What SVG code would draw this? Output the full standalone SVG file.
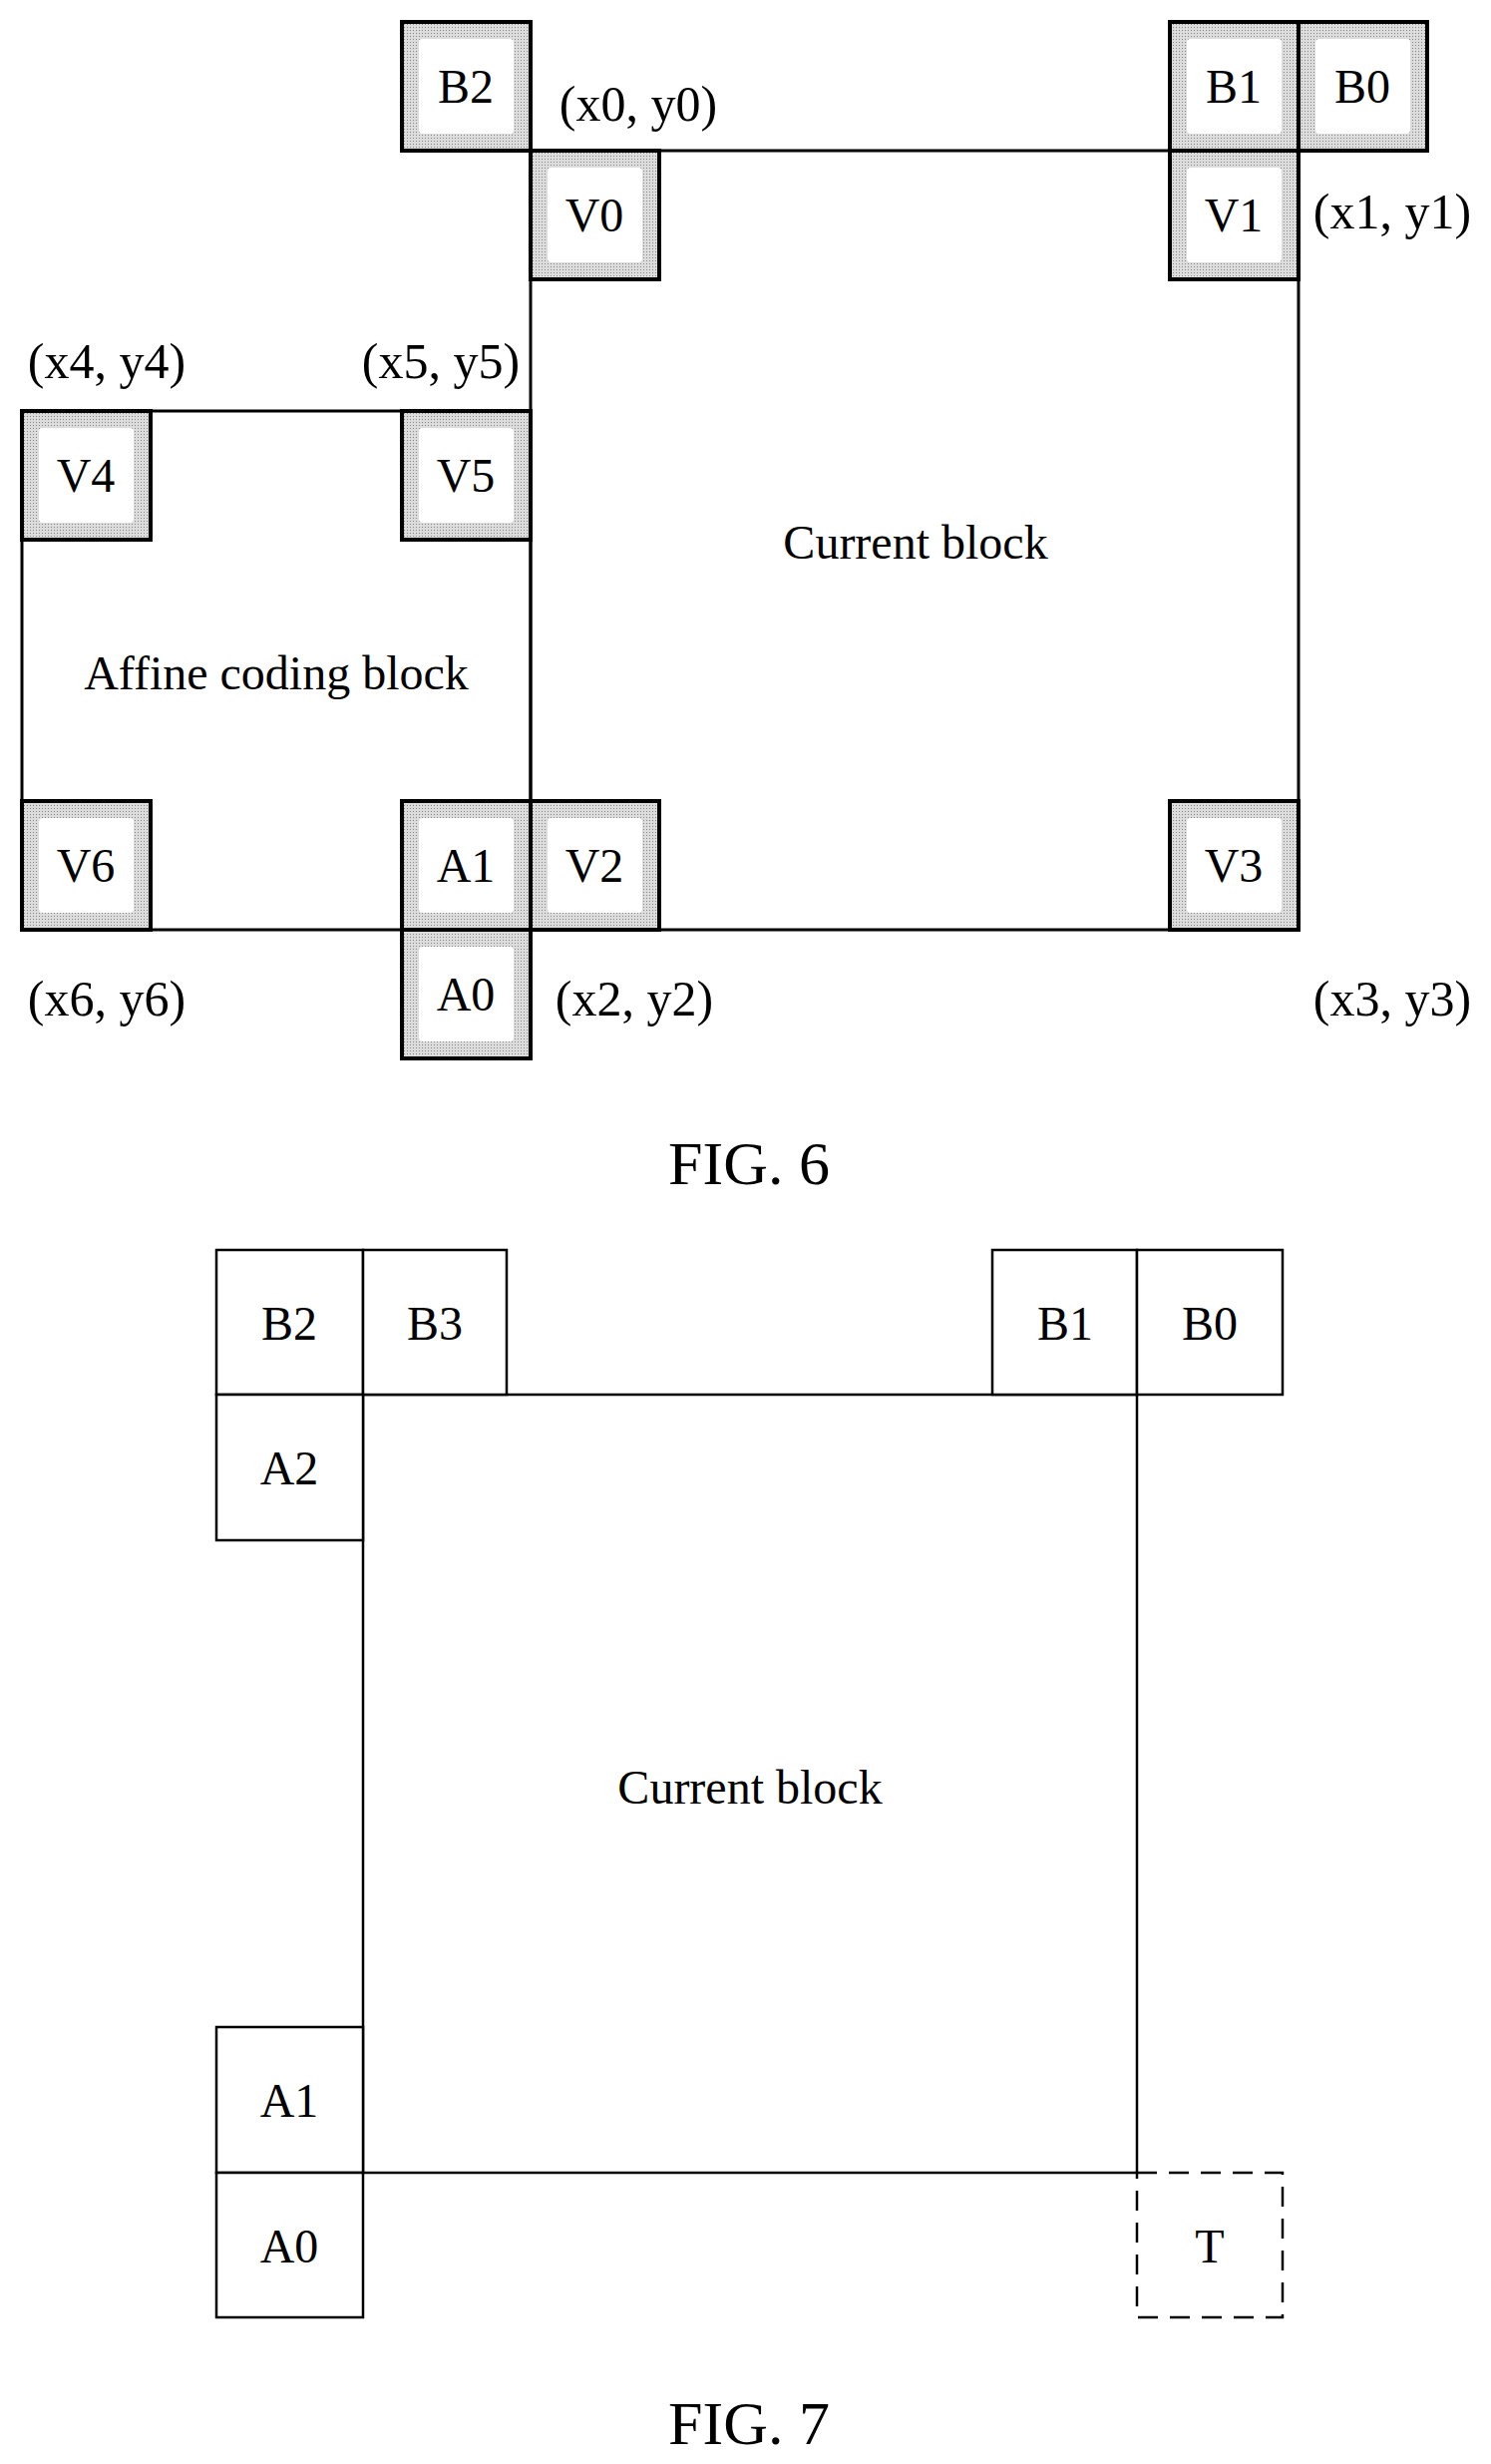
<svg xmlns="http://www.w3.org/2000/svg" width="1495" height="2470" viewBox="0 0 1495 2470">
<style>
text{font-family:"Liberation Serif","Times New Roman",serif;fill:#000;text-anchor:middle;dominant-baseline:central}
.lbl{font-size:48px}
.co{font-size:50px}
.fig{font-size:62px}
.blk{fill:none;stroke:#000;stroke-width:3}
.sh{stroke:#000;stroke-width:4}
.in{fill:#fff}
.b7{fill:#fff;stroke:#000;stroke-width:2.5}
</style>
<defs>
<pattern id="dots" width="3" height="3" patternUnits="userSpaceOnUse"><rect width="3" height="3" fill="#dcdcdc"/><rect width="1" height="1" fill="#888"/></pattern>
</defs>
<g id="fig6-blocks">
<rect class="blk" x="532" y="151" width="770" height="781"/>
<rect class="blk" x="22" y="412" width="510" height="520"/>
</g>
<g id="fig6-nodes">
<g id="B2_6"><rect class="sh" x="403" y="22" width="129" height="129" fill="url(#dots)"/><rect class="in" x="420" y="39" width="95" height="95" rx="4"/><text class="lbl" x="467" y="86">B2</text></g>
<g id="V0"><rect class="sh" x="532" y="151" width="129" height="129" fill="url(#dots)"/><rect class="in" x="549" y="168" width="95" height="95" rx="4"/><text class="lbl" x="596" y="215">V0</text></g>
<g id="B1_6"><rect class="sh" x="1173" y="22" width="129" height="129" fill="url(#dots)"/><rect class="in" x="1190" y="39" width="95" height="95" rx="4"/><text class="lbl" x="1237" y="86">B1</text></g>
<g id="B0_6"><rect class="sh" x="1302" y="22" width="129" height="129" fill="url(#dots)"/><rect class="in" x="1319" y="39" width="95" height="95" rx="4"/><text class="lbl" x="1366" y="86">B0</text></g>
<g id="V1"><rect class="sh" x="1173" y="151" width="129" height="129" fill="url(#dots)"/><rect class="in" x="1190" y="168" width="95" height="95" rx="4"/><text class="lbl" x="1237" y="215">V1</text></g>
<g id="V4"><rect class="sh" x="22" y="412" width="129" height="129" fill="url(#dots)"/><rect class="in" x="39" y="429" width="95" height="95" rx="4"/><text class="lbl" x="86" y="476">V4</text></g>
<g id="V5"><rect class="sh" x="403" y="412" width="129" height="129" fill="url(#dots)"/><rect class="in" x="420" y="429" width="95" height="95" rx="4"/><text class="lbl" x="467" y="476">V5</text></g>
<g id="V6"><rect class="sh" x="22" y="803" width="129" height="129" fill="url(#dots)"/><rect class="in" x="39" y="820" width="95" height="95" rx="4"/><text class="lbl" x="86" y="867">V6</text></g>
<g id="A1_6"><rect class="sh" x="403" y="803" width="129" height="129" fill="url(#dots)"/><rect class="in" x="420" y="820" width="95" height="95" rx="4"/><text class="lbl" x="467" y="867">A1</text></g>
<g id="V2"><rect class="sh" x="532" y="803" width="129" height="129" fill="url(#dots)"/><rect class="in" x="549" y="820" width="95" height="95" rx="4"/><text class="lbl" x="596" y="867">V2</text></g>
<g id="V3"><rect class="sh" x="1173" y="803" width="129" height="129" fill="url(#dots)"/><rect class="in" x="1190" y="820" width="95" height="95" rx="4"/><text class="lbl" x="1237" y="867">V3</text></g>
<g id="A0_6"><rect class="sh" x="403" y="932" width="129" height="129" fill="url(#dots)"/><rect class="in" x="420" y="949" width="95" height="95" rx="4"/><text class="lbl" x="467" y="996">A0</text></g>
</g>
<g id="fig6-labels">
<text class="lbl" x="918" y="543">Current block</text>
<text class="lbl" x="277" y="674">Affine coding block</text>
<text class="co" x="640" y="104">(x0, y0)</text>
<text class="co" x="1396" y="212">(x1, y1)</text>
<text class="co" x="107" y="362">(x4, y4)</text>
<text class="co" x="442" y="362">(x5, y5)</text>
<text class="co" x="107" y="1001">(x6, y6)</text>
<text class="co" x="636" y="1001">(x2, y2)</text>
<text class="co" x="1396" y="1001">(x3, y3)</text>
<text class="fig" x="751" y="1166">FIG. 6</text>
</g>
<g id="fig7-blocks">
<rect class="blk" x="364" y="1398" width="776" height="780" style="stroke-width:2.5"/>
</g>
<g id="fig7-nodes">
<g id="B2_7"><rect class="b7" x="217" y="1253" width="147" height="145"/><text class="lbl" x="290" y="1326">B2</text></g>
<g id="B3_7"><rect class="b7" x="364" y="1253" width="144" height="145"/><text class="lbl" x="436" y="1326">B3</text></g>
<g id="B1_7"><rect class="b7" x="995" y="1253" width="145" height="145"/><text class="lbl" x="1068" y="1326">B1</text></g>
<g id="B0_7"><rect class="b7" x="1140" y="1253" width="146" height="145"/><text class="lbl" x="1213" y="1326">B0</text></g>
<g id="A2_7"><rect class="b7" x="217" y="1398" width="147" height="146"/><text class="lbl" x="290" y="1471">A2</text></g>
<g id="A1_7"><rect class="b7" x="217" y="2032" width="147" height="146"/><text class="lbl" x="290" y="2105">A1</text></g>
<g id="A0_7"><rect class="b7" x="217" y="2178" width="147" height="145"/><text class="lbl" x="290" y="2251">A0</text></g>
<g id="T"><rect x="1140" y="2178" width="146" height="145" fill="none" stroke="#000" stroke-width="2.5" stroke-dasharray="20 12"/><text class="lbl" x="1213" y="2251">T</text></g>
</g>
<g id="fig7-labels">
<text class="lbl" x="752" y="1791">Current block</text>
<text class="fig" x="751" y="2429">FIG. 7</text>
</g>
</svg>
